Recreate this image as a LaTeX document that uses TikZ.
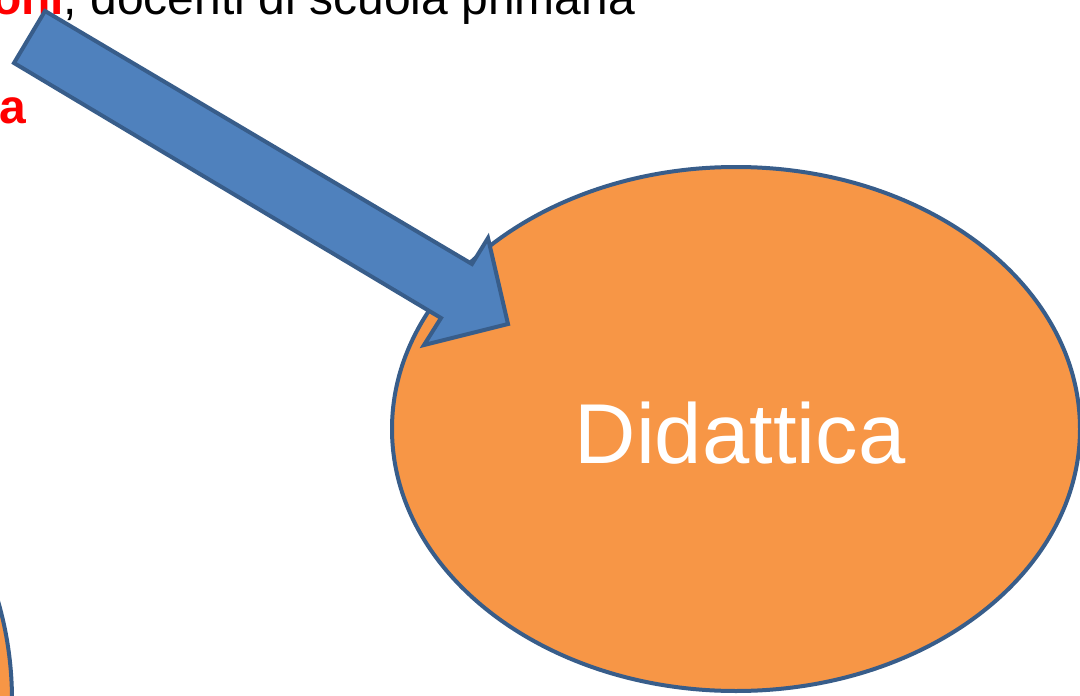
\documentclass[tikz,border=0pt]{standalone}
\usepackage{fontspec}
\setmainfont{Liberation Sans}
\usetikzlibrary{shapes.geometric}
\definecolor{arrowblue}{HTML}{4F81BD}
\definecolor{edgeblue}{HTML}{385D8A}
\definecolor{ovalorange}{HTML}{F79646}
\definecolor{textred}{HTML}{FF0000}
\begin{document}
\begin{tikzpicture}[x=1pt,y=-1pt,
  oval/.style={ellipse, draw=edgeblue, fill=ovalorange, line width=4pt, inner sep=0pt},
  blockarrow/.style={draw=edgeblue, fill=arrowblue, line width=4pt, line join=miter},
  slidetext/.style={inner sep=0pt, outer sep=0pt, font=\fontsize{48}{58}\selectfont}]
\useasboundingbox (0,0) rectangle (1080,696);
\clip (0,0) rectangle (1080,696);
\fill[white] (0,0) rectangle (1080,696);
% partial ellipse at bottom left
\node[oval, minimum width=690pt, minimum height=700pt] (leftoval) at (-333,700) {};
% main ellipse
\node[oval, minimum width=688pt, minimum height=524pt, text=white,
      font=\fontsize{85}{100}\selectfont, text height=69pt, text depth=0pt]
      (didattica) at (736,429) {\hspace*{8pt}Didattica};
% texts
\node[slidetext, anchor=base west] (line1) at (-8,14)
  {\textcolor{textred}{\bfseries oni}, docenti di scuola primaria};
\node[slidetext, anchor=base east, text=textred] (line2) at (26,123) {\bfseries a};
% block arrow
\coordinate (tailTop) at (45,11);
\coordinate (notchTop) at (472,264);
\coordinate (wingTop) at (488,238);
\coordinate (tip) at (508,324);
\coordinate (wingBot) at (424,345);
\coordinate (notchBot) at (441,318);
\coordinate (tailBot) at (14,63);
\draw[blockarrow] (tailTop) -- (notchTop) -- (wingTop) -- (tip) -- (wingBot) -- (notchBot) -- (tailBot) -- cycle;
\end{tikzpicture}
\end{document}
